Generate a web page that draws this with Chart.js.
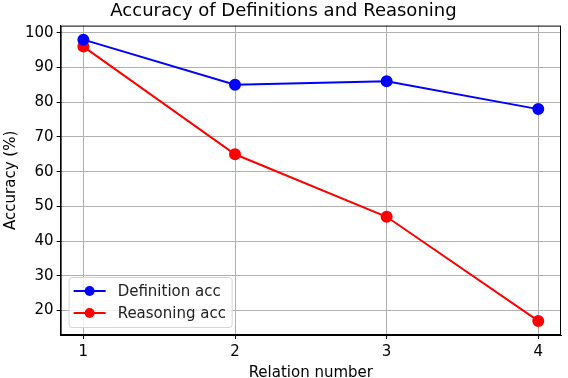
<!DOCTYPE html>
<html>
<head>
<meta charset="utf-8">
<script src="https://cdn.jsdelivr.net/npm/chart.js@4"></script>
<style>
  html, body { margin: 0; padding: 0; background: #fff; }
  #wrap { width: 568px; height: 378px; }
</style>
</head>
<body>
<div id="wrap"><canvas id="grafico" width="568" height="378"></canvas></div>
<script>
const relaciones = [1, 2, 3, 4];
const definicionAcc = [98, 85, 86, 78];
const razonamientoAcc = [96, 65, 47, 17];
const yTicks = [20, 30, 40, 50, 60, 70, 80, 90, 100];

const fuente = "'DejaVu Sans', sans-serif";

// marco negro alrededor del area y leyenda dentro del grafico
const marcoYLeyenda = {
    id: 'marcoYLeyenda',
    afterDraw(chart) {
        const ctx = chart.ctx;
        const a = chart.chartArea;
        ctx.save();
        ctx.strokeStyle = '#000';
        ctx.lineWidth = 1;
        ctx.strokeRect(a.left + 0.5, a.top + 0.5, a.right - a.left - 1, a.bottom - a.top - 1);

        const x0 = a.left + 8, y0 = a.bottom - 58;
        const w = 163, h = 50;
        ctx.fillStyle = 'rgba(255,255,255,0.8)';
        ctx.strokeStyle = '#d6d6d6';
        ctx.beginPath();
        ctx.roundRect(x0 + 0.5, y0 + 0.5, w, h, 3);
        ctx.fill();
        ctx.stroke();

        chart.data.datasets.forEach((ds, i) => {
            const cy = y0 + 14 + i * 22;
            ctx.strokeStyle = ds.borderColor;
            ctx.lineWidth = 2;
            ctx.beginPath();
            ctx.moveTo(x0 + 5, cy);
            ctx.lineTo(x0 + 37, cy);
            ctx.stroke();
            ctx.fillStyle = ds.borderColor;
            ctx.beginPath();
            ctx.arc(x0 + 21, cy, 5, 0, Math.PI * 2);
            ctx.fill();
            ctx.fillStyle = '#222';
            ctx.font = '15px ' + fuente;
            ctx.textBaseline = 'middle';
            ctx.fillText(ds.label, x0 + 49, cy + 1);
        });
        ctx.restore();
    }
};

const ctx = document.getElementById('grafico').getContext('2d');
const miGrafico = new Chart(ctx, {
    type: 'line',
    data: {
        datasets: [{
            label: 'Definition acc',
            data: relaciones.map((r, i) => ({ x: r, y: definicionAcc[i] })),
            borderColor: '#0000ff',
            backgroundColor: '#0000ff',
            borderWidth: 2,
            pointRadius: 5,
            pointHoverRadius: 5,
            tension: 0
        },
        {
            label: 'Reasoning acc',
            data: relaciones.map((r, i) => ({ x: r, y: razonamientoAcc[i] })),
            borderColor: '#ff0000',
            backgroundColor: '#ff0000',
            borderWidth: 2,
            pointRadius: 5,
            pointHoverRadius: 5,
            tension: 0
        }]
    },
    options: {
        responsive: false,
        animation: false,
        layout: { padding: { top: 0, right: 3, left: 2, bottom: -3 } },
        plugins: {
            legend: { display: false },
            tooltip: { enabled: false },
            title: {
                display: true,
                text: 'Accuracy of Definitions and Reasoning',
                color: '#000',
                font: { family: fuente, size: 18, weight: 'normal' },
                padding: { top: 1, bottom: 3 }
            }
        },
        scales: {
            x: {
                type: 'linear',
                min: 0.85,
                max: 4.15,
                afterBuildTicks: (s) => { s.ticks = relaciones.map(v => ({ value: v })); },
                ticks: { color: '#000', font: { family: fuente, size: 15, lineHeight: 1 }, padding: 5.5 },
                grid: { color: '#b0b0b0', tickColor: '#000', tickLength: 4, drawTicks: true },
                border: { color: '#000' },
                title: {
                    display: true,
                    text: 'Relation number',
                    color: '#000',
                    font: { family: fuente, size: 15, lineHeight: 1 },
                    padding: { top: 1, bottom: 0 }
                }
            },
            y: {
                min: 12.95,
                max: 102.05,
                afterBuildTicks: (s) => { s.ticks = yTicks.map(v => ({ value: v })); },
                ticks: { color: '#000', font: { family: fuente, size: 15 }, padding: 3 },
                grid: { color: '#b0b0b0', tickColor: '#000', tickLength: 4, drawTicks: true },
                border: { color: '#000' },
                title: {
                    display: true,
                    text: 'Accuracy (%)',
                    color: '#000',
                    font: { family: fuente, size: 15 },
                    padding: { top: 0, bottom: 2 }
                }
            }
        }
    },
    plugins: [marcoYLeyenda]
});
</script>
</body>
</html>
